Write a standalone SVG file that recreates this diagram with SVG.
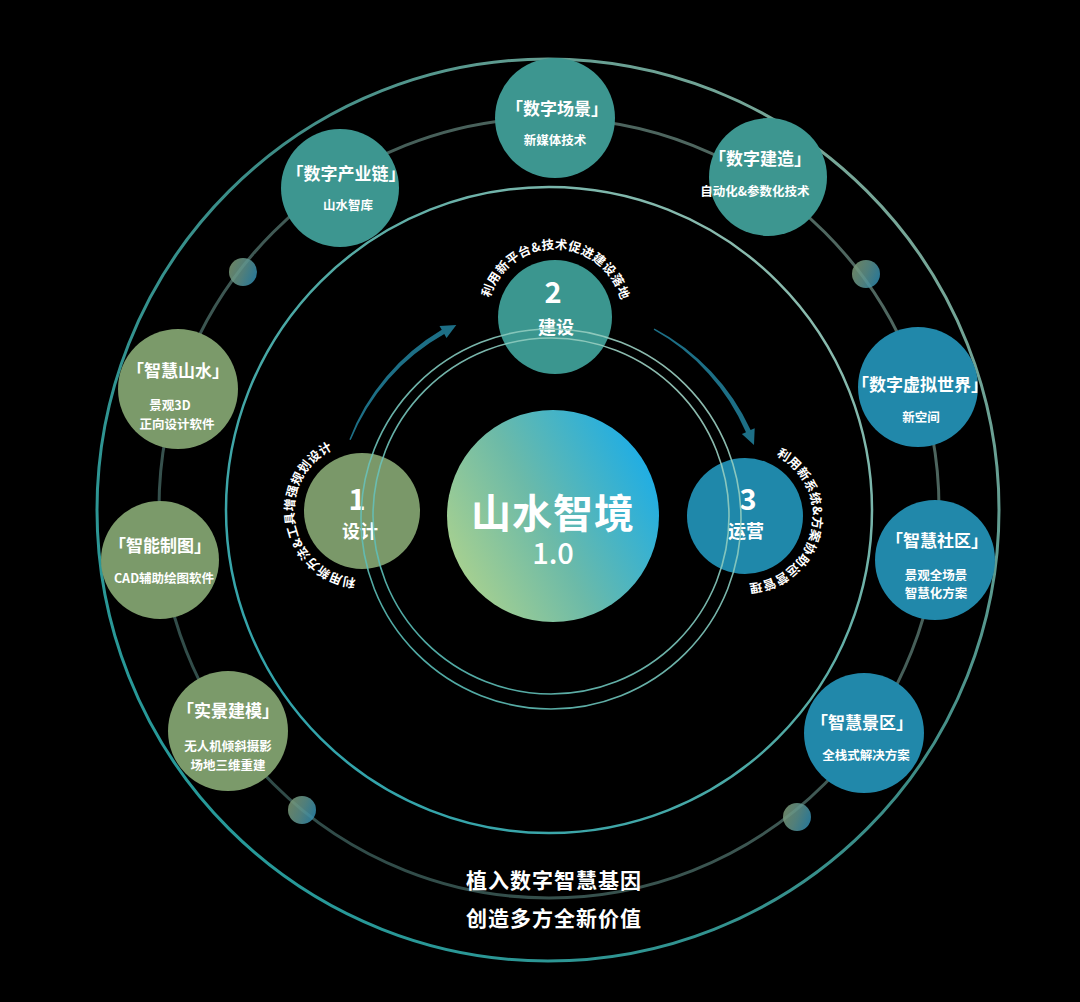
<svg xmlns="http://www.w3.org/2000/svg" width="1080" height="1002" viewBox="0 0 1080 1002">
<defs>
<style>
text{font-family:"Noto Sans CJK SC","Noto Sans",sans-serif;fill:#ffffff;text-anchor:middle;}
.t{font-size:17px;font-weight:bold;}
.s{font-size:12.5px;font-weight:bold;}
.num{font-size:29px;font-weight:bold;}
.lab{font-size:18px;font-weight:bold;}
.arc{font-size:12.5px;font-weight:bold;letter-spacing:0.4px;}
.big{font-size:21px;font-weight:bold;letter-spacing:1px;}
.green{fill:#7b9a6a;}
.teal{fill:#3d9690;}
.blue{fill:#2188aa;}
.ring{fill:none;}
.flow{fill:#1d6f86;stroke:none;}
</style>
<linearGradient id="gOuter" x1="0" y1="1" x2="1" y2="0">
<stop offset="0" stop-color="#1f9ea0"/><stop offset="0.55" stop-color="#3d8c86"/><stop offset="1" stop-color="#93b3a0"/>
</linearGradient>
<linearGradient id="gBright" x1="0" y1="1" x2="1" y2="0">
<stop offset="0" stop-color="#27a2ae"/><stop offset="0.5" stop-color="#4fa9a4"/><stop offset="1" stop-color="#a2c2b2"/>
</linearGradient>
<linearGradient id="gOrbit" x1="0" y1="1" x2="1" y2="0">
<stop offset="0" stop-color="#2a4644"/><stop offset="1" stop-color="#566d65"/>
</linearGradient>
<linearGradient id="gInner" x1="0" y1="1" x2="1" y2="0">
<stop offset="0" stop-color="#4cb9b4"/><stop offset="1" stop-color="#a9d3c3"/>
</linearGradient>
<linearGradient id="gCore" x1="0.05" y1="0.8" x2="1" y2="0.3">
<stop offset="0" stop-color="#a9d18f"/><stop offset="0.45" stop-color="#6cbaa8"/><stop offset="1" stop-color="#1dade6"/>
</linearGradient>
<linearGradient id="gDot" x1="0" y1="0.3" x2="1" y2="0.7">
<stop offset="0" stop-color="#7d9a76"/><stop offset="0.5" stop-color="#5f9590"/><stop offset="1" stop-color="#2f8cb2"/>
</linearGradient>
<path id="p1" d="M396,569.9 A68,68 0 1 1 373.8,444.0"/>
<path id="p2" d="M490.7,339.1 A68,68 0 1 1 618.5,341.4"/>
<path id="p3" d="M735.5,448.7 A68,68 0 1 1 709.0,573.7"/>
</defs>
<rect width="1080" height="1002" fill="#000000"/>

<g id="rings">
<circle class="ring" cx="548" cy="510" r="451" stroke="url(#gOuter)" stroke-width="3"/>
<circle class="ring" cx="549" cy="508" r="390" stroke="url(#gOrbit)" stroke-width="3"/>
<circle class="ring" cx="549" cy="510" r="323" stroke="url(#gBright)" stroke-width="2.5"/>
</g>

<g id="dots">
<circle cx="243" cy="272" r="14" fill="url(#gDot)" opacity="0.85"/>
<circle cx="866" cy="274" r="14" fill="url(#gDot)" opacity="0.85"/>
<circle cx="302" cy="810" r="14" fill="url(#gDot)" opacity="0.85"/>
<circle cx="797" cy="817" r="14" fill="url(#gDot)" opacity="0.85"/>
</g>

<g id="node-chanyelian">
<circle class="teal" cx="340" cy="188" r="59"/>
<text class="t" x="346" y="172" dominant-baseline="central">「数字产业链」</text>
<text class="s" x="348" y="204" dominant-baseline="central">山水智库</text>
</g>
<g id="node-changjing">
<circle class="teal" cx="555" cy="118" r="60"/>
<text class="t" x="557" y="107" dominant-baseline="central">「数字场景」</text>
<text class="s" x="555" y="139" dominant-baseline="central">新媒体技术</text>
</g>
<g id="node-jianzao">
<circle class="teal" cx="768" cy="177" r="59"/>
<text class="t" x="760" y="157" dominant-baseline="central">「数字建造」</text>
<text class="s" x="755" y="190" dominant-baseline="central">自动化&amp;参数化技术</text>
</g>
<g id="node-shanshui">
<circle class="green" cx="178" cy="389" r="60"/>
<text class="t" x="178" y="369" dominant-baseline="central">「智慧山水」</text>
<text class="s" x="170" y="404" dominant-baseline="central">景观3D</text>
<text class="s" x="177" y="423" dominant-baseline="central">正向设计软件</text>
</g>
<g id="node-zhitu">
<circle class="green" cx="160" cy="560" r="59"/>
<text class="t" x="160" y="544" dominant-baseline="central">「智能制图」</text>
<text class="s" x="164" y="577" dominant-baseline="central">CAD辅助绘图软件</text>
</g>
<g id="node-jianmo">
<circle class="green" cx="228" cy="731" r="60"/>
<text class="t" x="228" y="709" dominant-baseline="central">「实景建模」</text>
<text class="s" x="228" y="745" dominant-baseline="central">无人机倾斜摄影</text>
<text class="s" x="228" y="764" dominant-baseline="central">场地三维重建</text>
</g>
<g id="node-xuni">
<circle class="blue" cx="918" cy="387" r="60"/>
<text class="t" x="920" y="383" dominant-baseline="central">「数字虚拟世界」</text>
<text class="s" x="921" y="416" dominant-baseline="central">新空间</text>
</g>
<g id="node-shequ">
<circle class="blue" cx="935" cy="560" r="60"/>
<text class="t" x="937" y="539" dominant-baseline="central">「智慧社区」</text>
<text class="s" x="936" y="574" dominant-baseline="central">景观全场景</text>
<text class="s" x="936" y="592" dominant-baseline="central">智慧化方案</text>
</g>
<g id="node-jingqu">
<circle class="blue" cx="864" cy="733" r="60"/>
<text class="t" x="862" y="721" dominant-baseline="central">「智慧景区」</text>
<text class="s" x="866" y="754" dominant-baseline="central">全栈式解决方案</text>
</g>

<g id="node-1">
<circle fill="#7a9869" cx="362" cy="511" r="58"/>
<text class="num" x="357" y="497" dominant-baseline="central">1</text>
<text class="lab" x="360" y="530" dominant-baseline="central">设计</text>
</g>
<g id="node-2">
<circle fill="#3b968f" cx="555" cy="317" r="57"/>
<text class="num" x="553" y="290" dominant-baseline="central">2</text>
<text class="lab" x="556" y="326" dominant-baseline="central">建设</text>
</g>
<g id="node-3">
<circle fill="#1f88aa" cx="745" cy="516" r="58"/>
<text class="num" x="748" y="497" dominant-baseline="central">3</text>
<text class="lab" x="746" y="530" dominant-baseline="central">运营</text>
</g>

<g id="inner-rings">
<circle class="ring" cx="551" cy="519" r="190" stroke="url(#gInner)" stroke-width="1.6" opacity="0.9"/>
<circle class="ring" cx="551" cy="516" r="178" stroke="url(#gInner)" stroke-width="1.6" opacity="0.9"/>
</g>

<g id="node-core">
<circle fill="url(#gCore)" cx="553" cy="516" r="106"/>
<text x="553" y="511" dominant-baseline="central" style="font-size:40px;font-weight:bold;letter-spacing:1px">山水智境</text>
<text x="553" y="551" dominant-baseline="central" style="font-size:29px;font-weight:500">1.0</text>
</g>

<g id="arc-labels">
<text class="arc"><textPath href="#p1" startOffset="50%">利用新方法&amp;工具增强规划设计</textPath></text>
<text class="arc"><textPath href="#p2" startOffset="50%">利用新平台&amp;技术促进建设落地</textPath></text>
<text class="arc"><textPath href="#p3" startOffset="50%">利用新系统&amp;方案协助运营管理</textPath></text>
</g>

<g id="connectors">
<path class="flow" d="M349.34,439.56 A217,217 0 0 1 441.75,329.8 L439.5,325.9 L456.3,324.9 L446.5,338.0 L444.25,334.1 A214,214 0 0 0 350.73,440.11 Z"/>
<path class="flow" d="M654.43,328.52 A217,217 0 0 1 750.6,430.1 L754.7,428.3 L754.0,445.1 L741.9,434.0 L746.0,432.2 A214,214 0 0 0 653.72,329.84 Z"/>
</g>

<g id="footer">
<text class="big" x="554" y="879" dominant-baseline="central">植入数字智慧基因</text>
<text class="big" x="554" y="917" dominant-baseline="central">创造多方全新价值</text>
</g>
</svg>
